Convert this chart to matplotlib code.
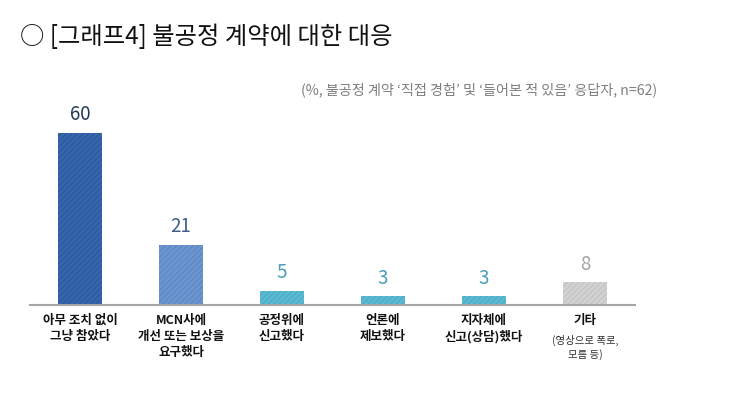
import matplotlib
matplotlib.use('Agg')
import matplotlib.pyplot as plt
from matplotlib.transforms import blended_transform_factory

plt.rcParams['font.family'] = ['Noto Sans CJK KR', 'DejaVu Sans']
plt.rcParams['hatch.linewidth'] = 0.6

# 데이터
categories = ['아무 조치 없이\n그냥 참았다', 'MCN사에\n개선 또는 보상을\n요구했다', '공정위에\n신고했다',
              '언론에\n제보했다', '지자체에\n신고(상담)했다', '기타']
values = [60, 21, 5, 3, 3, 8]
etc_note = '(영상으로 폭로,\n모름 등)'

bar_colors = ['#3566ad', '#6b95d0', '#5bbad3', '#5bbad3', '#5bbad3', '#d2d2d2']
hatch_colors = ['#2a5291', '#5a82bd', '#49a5bf', '#49a5bf', '#49a5bf', '#bdbdbd']
label_colors = ['#1f3858', '#3f5f86', '#4a9fb8', '#4a9fb8', '#4a9fb8', '#a3a3a3']

fig = plt.figure(figsize=(7.43, 3.94), dpi=100, facecolor='white')
ax = fig.add_axes([30/743, 89/394, 605/743, 205/394])

x = list(range(len(values)))
bars = ax.bar(x, values, width=0.44, color=bar_colors, linewidth=0, hatch='//////')
for b, hc in zip(bars, hatch_colors):
    b.set_edgecolor(hc)
    b.set_linewidth(0)

for xi, v, c in zip(x, values, label_colors):
    ax.text(xi, v + 2.6, str(v), ha='center', va='bottom', fontsize=13.5,
            color=c, fontweight='medium')

ax.set_xlim(-0.495, 5.495)
ax.set_ylim(0, 71.4)
for s in ['top', 'right', 'left']:
    ax.spines[s].set_visible(False)
ax.spines['bottom'].set_color('#a6a6a6')
ax.spines['bottom'].set_linewidth(1.5)
ax.set_yticks([])
ax.set_xticks([])

# 카테고리 라벨
trans = blended_transform_factory(ax.transData, ax.transAxes)
for xi, cat in zip(x, categories):
    ax.text(xi, -0.045, cat, transform=trans, ha='center', va='top', fontsize=9,
            color='#111111', fontweight='bold', linespacing=1.3)
ax.text(x[-1], -0.145, etc_note, transform=trans, ha='center', va='top', fontsize=7.5,
        color='#333333', linespacing=1.35)

fig.text(20/743, 1 - 37/394, '○ [그래프4] 불공정 계약에 대한 대응', ha='left', va='center',
         fontsize=17.5, color='#111111', fontweight='light')
fig.text(657/743, 1 - 90/394, "(%, 불공정 계약 ‘직접 경험’ 및 ‘들어본 적 있음’ 응답자, n=62)",
         ha='right', va='center', fontsize=10.2, color='#7f7f7f')

fig.savefig('out.png', dpi=100, facecolor='white')
